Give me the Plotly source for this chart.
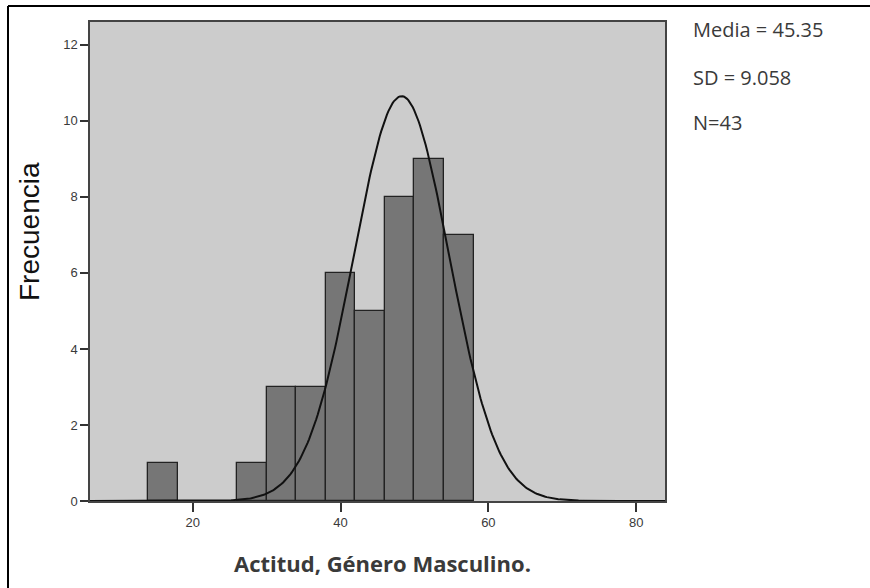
import numpy as np
import plotly.graph_objects as go

# Histogram data
bin_left = [14, 26, 30, 34, 38, 42, 46, 50, 54]
counts = [1, 1, 3, 3, 6, 5, 8, 9, 7]
bin_width = 4

# Normal curve drawn in the picture (parameters)
curve_mean = 48.25
curve_sd = 6.45
curve_peak = 10.65

stats_text = ["Media = 45.35", "SD = 9.058", "N=43"]
x_ticks = [20, 40, 60, 80]
y_ticks = [0, 2, 4, 6, 8, 10, 12]
x_title = "Actitud, Género Masculino."
y_title = "Frecuencia"

x_range = [6.1, 83.9]
y_range = [0, 12.6]

centers = [b + bin_width / 2 for b in bin_left]
cx = np.linspace(x_range[0], x_range[1], 400)
cy = curve_peak * np.exp(-((cx - curve_mean) ** 2) / (2 * curve_sd ** 2))

fig = go.Figure()
fig.add_trace(go.Bar(
    x=centers, y=counts, width=bin_width,
    marker=dict(color="#767676", line=dict(color="#222222", width=1.3)),
    showlegend=False, hoverinfo="x+y",
))
fig.add_trace(go.Scatter(
    x=cx, y=cy, mode="lines",
    line=dict(color="#111111", width=2),
    showlegend=False, hoverinfo="skip",
))

axis_font = dict(family="Liberation Sans, Arial", size=13, color="#3a3a3a")

PW, PH = 575, 479
fig.update_layout(
    width=870, height=588,
    margin=dict(l=90, r=205, t=22, b=87),
    paper_bgcolor="white",
    plot_bgcolor="#cccccc",
    bargap=0,
    xaxis=dict(
        range=x_range, tickvals=x_ticks, ticks="outside", ticklen=9,
        tickwidth=1.5, tickcolor="#333333", showgrid=False, zeroline=False,
        showline=True, linecolor="#444444", linewidth=1.5, mirror=True,
        tickfont=axis_font,
    ),
    yaxis=dict(
        range=y_range, tickvals=y_ticks, ticks="outside", ticklen=8,
        tickwidth=1.5, tickcolor="#333333", showgrid=False, zeroline=False,
        showline=True, linecolor="#444444", linewidth=1.5, mirror=True,
        tickfont=axis_font,
    ),
    shapes=[
        dict(type="line", xref="paper", yref="paper", x0=-82/PW, x1=1 + 205/PW,
             y0=1 + 16/PH, y1=1 + 16/PH, line=dict(color="black", width=2)),
        dict(type="line", xref="paper", yref="paper", x0=-82/PW, x1=-82/PW,
             y0=1 + 16/PH, y1=-87/PH, line=dict(color="black", width=2)),
    ],
)

annotations = []
stat_y = [30, 78, 122]
for t, yy in zip(stats_text, stat_y):
    annotations.append(dict(
        text=t, xref="paper", yref="paper", x=(691 - 90) / PW, y=1 - (yy - 22) / PH,
        xanchor="left", yanchor="middle", showarrow=False,
        font=dict(family="Open Sans", size=20, color="#3a3a3a"),
    ))
annotations.append(dict(
    text="<b>" + x_title + "</b>", xref="paper", yref="paper",
    x=(382 - 90) / PW, y=1 - (563 - 22) / PH, xanchor="center", yanchor="middle",
    showarrow=False, font=dict(family="Open Sans", size=22, color="#3a3a3a"),
))
annotations.append(dict(
    text=y_title, xref="paper", yref="paper",
    x=(29 - 90) / PW, y=1 - (232 - 22) / PH, xanchor="center", yanchor="middle",
    textangle=-90, showarrow=False,
    font=dict(family="Liberation Sans, Arial", size=28, color="#111111"),
))
fig.update_layout(annotations=annotations)

fig.write_html("out.html", config={"displayModeBar": False},
               post_script="document.body.style.margin='0';")
